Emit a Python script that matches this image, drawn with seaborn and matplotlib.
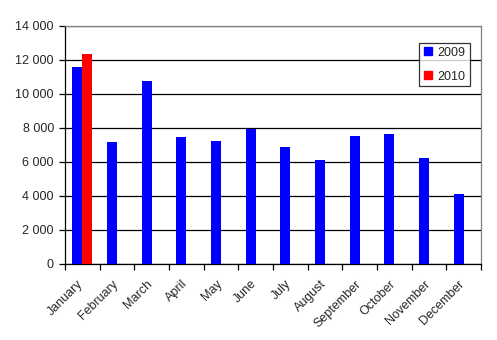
import matplotlib
matplotlib.use("Agg")
import matplotlib.pyplot as plt
import matplotlib.ticker as mticker
import matplotlib.transforms as mtransforms
import seaborn as sns
import pandas as pd
import numpy as np

months = ["January", "February", "March", "April", "May", "June", "July",
          "August", "September", "October", "November", "December"]
values_2009 = [11600, 7180, 10770, 7470, 7240, 7960, 6880, 6120, 7530, 7650, 6240, 4120]
values_2010 = [12350, None, None, None, None, None, None, None, None, None, None, None]
series = ["2009", "2010"]
colors = ["#0000FF", "#FF0000"]
yticks = [0, 2000, 4000, 6000, 8000, 10000, 12000, 14000]

rows = []
for m, a, b in zip(months, values_2009, values_2010):
    rows.append({"month": m, "year": series[0], "value": a})
    rows.append({"month": m, "year": series[1], "value": np.nan if b is None else b})
df = pd.DataFrame(rows)

sns.set_style("white")
plt.rcParams["font.family"] = ["Liberation Sans", "DejaVu Sans"]

fig = plt.figure(figsize=(4.97, 3.40), dpi=100)
ax = fig.add_axes([65/497, 1-264/340, (481-65)/497, (264-26)/340])

sns.barplot(data=df, x="month", y="value", hue="year", order=months,
            hue_order=series, palette=colors, width=0.58, saturation=1,
            errorbar=None, ax=ax, linewidth=0, zorder=3)

ax.set_ylim(0, 14000)
ax.set_xlim(-0.5, 11.5)
ax.set_yticks(yticks)
ax.yaxis.set_major_formatter(mticker.FuncFormatter(lambda v, p: f"{int(v):,}".replace(",", " ")))
ax.grid(axis="y", color="black", linewidth=0.9, zorder=0)
ax.set_axisbelow(True)
ax.set_xlabel("")
ax.set_ylabel("")

ax.set_xticks(range(len(months)))
ax.set_xticklabels(months, rotation=45, ha="right", rotation_mode="anchor")
ax.set_xticks(np.arange(-0.5, 12, 1), minor=True)
ax.tick_params(axis="x", which="major", length=0, pad=10, labelsize=9)
ax.tick_params(axis="x", which="minor", length=4, width=0.9, color="black", direction="out")
ax.tick_params(axis="y", which="major", length=4, width=0.9, color="black", direction="out", labelsize=9, pad=4)
ax.tick_params(bottom=True, left=True, which="both")
offset = mtransforms.ScaledTranslation(-5/100, 0, fig.dpi_scale_trans)
for lbl in ax.get_xticklabels():
    lbl.set_transform(lbl.get_transform() + offset)

for s in ["left", "bottom"]:
    ax.spines[s].set_color("black")
    ax.spines[s].set_linewidth(0.9)
for s in ["top", "right"]:
    ax.spines[s].set_color("#808080")
    ax.spines[s].set_linewidth(0.9)

handles = [plt.Line2D([], [], marker="s", linestyle="", color=c, markersize=5.8) for c in colors]
leg = ax.legend(handles, series, loc="upper left", bbox_to_anchor=(0.851, 0.929),
                frameon=True, fancybox=False, fontsize=9, handlelength=0.8,
                handletextpad=0.4, borderpad=0.3, labelspacing=0.95, borderaxespad=0)
leg.get_frame().set_edgecolor("black")
leg.get_frame().set_linewidth(0.9)

fig.savefig("out.png", dpi=100)
